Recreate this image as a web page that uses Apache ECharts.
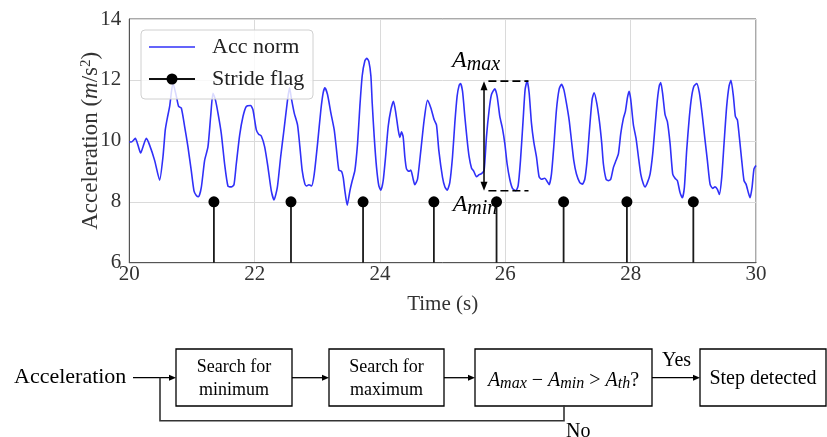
<!DOCTYPE html>
<html><head><meta charset="utf-8">
<script src="https://cdn.jsdelivr.net/npm/echarts@6/dist/echarts.min.js"></script>
<style>html,body{margin:0;padding:0;background:#fff}#c{width:827px;height:437px}</style>
</head><body><div id="c"></div>
<script>
// ---- Acc norm signal, in four pieces ----
const timeA = [20.000,20.032,20.096,20.138,20.181,20.218,20.271,20.324,20.404,20.484,20.537,20.574,20.606,20.644,20.697,20.750,20.787,20.830,20.883,20.936,20.989,21.032,21.069,21.106,21.149,21.202,21.255,21.298,21.335,21.372,21.415,21.468,21.521,21.574,21.628,21.670,21.707,21.761,21.814,21.867,21.936,21.973,22.027,22.064,22.106,22.160,22.213,22.266,22.309,22.362,22.415,22.468];
const accA  = [9.97,9.96,10.08,9.86,9.60,9.80,10.08,9.86,9.36,8.71,9.47,10.36,10.74,11.13,11.90,11.47,11.13,11.08,10.47,9.80,9.02,8.36,8.21,8.17,8.47,9.36,9.80,10.80,11.56,11.36,10.91,10.24,9.24,8.52,8.49,8.56,9.24,10.19,10.80,11.13,11.16,11.02,10.36,10.22,10.16,9.80,9.13,8.36,8.06,8.47,9.47,10.36];
const timeB = [22.526,22.557,22.589,22.632,22.685,22.722,22.759,22.802,22.829,22.866,22.908,22.951,23.004,23.057,23.094,23.121,23.163,23.217,23.270,23.307,23.344,23.387,23.413,23.440,23.477,23.520,23.557,23.599,23.642,23.679,23.716,23.759,23.791,23.823,23.855,23.876,23.908,23.945,23.982,24.014,24.051,24.089,24.131,24.174,24.216,24.253,24.291,24.317,24.344,24.370,24.397,24.423,24.461,24.492,24.530,24.556,24.599,24.652,24.705,24.758,24.812,24.865,24.902,24.939];
const accB  = [11.36,11.74,11.36,10.91,10.52,9.80,9.02,8.58,8.52,8.56,8.52,8.91,9.91,11.02,11.58,11.74,11.52,10.91,10.36,9.69,9.04,9.00,8.80,8.36,7.89,8.36,8.69,9.02,9.91,11.13,12.13,12.63,12.71,12.60,12.13,11.24,10.13,9.13,8.52,8.38,8.69,9.47,10.47,11.02,11.30,10.91,10.36,10.11,10.30,10.13,9.47,9.08,9.00,9.04,8.74,8.56,8.74,9.69,10.69,11.33,11.08,10.69,10.52,9.69];
const timeC = [24.998,25.035,25.072,25.114,25.157,25.194,25.231,25.263,25.285,25.317,25.354,25.391,25.423,25.460,25.497,25.540,25.582,25.625,25.662,25.699,25.742,25.779,25.832,25.869,25.912,25.954,25.992,26.029,26.071,26.114,26.167,26.204,26.242,26.284,26.316,26.348,26.380,26.417,26.454,26.497,26.539,26.577,26.630,26.667,26.699,26.736,26.773,26.816,26.858,26.895,26.933,26.975,27.018,27.055,27.092,27.135,27.188,27.230,27.268,27.305,27.347,27.385,27.417];
const accC  = [8.80,8.49,8.38,8.63,9.47,10.58,11.47,11.82,11.88,11.63,10.80,10.02,9.47,9.11,9.00,8.82,8.89,8.93,9.04,10.13,11.02,11.52,11.71,11.47,10.80,10.41,9.91,9.24,8.74,8.44,8.36,8.52,9.36,10.69,11.69,11.97,11.58,10.58,9.97,9.47,8.82,8.74,8.77,8.67,8.56,8.91,9.80,11.02,11.69,11.86,11.69,11.24,10.69,10.02,9.36,8.91,8.63,8.58,8.74,9.36,10.47,11.36,11.58];
const timeD = [27.459,27.502,27.539,27.565,27.608,27.645,27.682,27.725,27.767,27.805,27.842,27.884,27.916,27.948,27.975,28.001,28.044,28.086,28.124,28.161,28.203,28.230,28.267,28.310,28.352,28.389,28.427,28.458,28.480,28.512,28.549,28.586,28.629,28.671,28.708,28.746,28.788,28.825,28.857,28.894,28.937,28.974,29.011,29.054,29.096,29.139,29.181,29.224,29.267,29.309,29.346,29.384,29.415,29.453,29.490,29.532,29.570,29.601,29.639,29.671,29.703,29.734,29.772,29.809,29.841,29.878,29.905,29.937,29.968,30.000];
const accD  = [11.24,10.63,9.91,9.24,8.74,8.69,8.74,9.13,9.36,9.58,10.24,10.74,10.97,11.41,11.63,11.36,10.52,10.08,9.47,8.91,8.58,8.49,8.63,8.91,9.58,10.47,11.36,11.82,11.91,11.52,10.86,10.63,9.91,8.91,8.77,8.69,8.30,8.13,8.47,9.69,10.80,11.47,11.80,11.88,11.58,10.91,10.13,9.36,8.58,8.44,8.49,8.41,8.24,8.80,9.91,11.13,11.80,11.99,11.47,10.80,10.69,10.13,9.36,8.69,8.58,8.30,8.13,8.47,9.08,9.19];

// ---- Stride flags ----
const strideTime  = [21.35,22.58,23.73,24.86,25.86,26.93,27.94,29.00];
const strideValue = [8,8,8,8,8,8,8,8];

// ---- Axis ticks ----
const xTicks = [20,22,24,26,28,30];
const yTicks = [6,8,10,12,14];

// ---- Amplitude annotation (data units) ----
const ampArrowTime = [25.66];
const ampLevels = [8.36, 11.96];          // [A_min, A_max]
const ampDashSpan = [25.73, 26.37];
const ampLabelTime = [25.15, 25.16];
const ampLabelValue = [12.62, 7.90];
const ampLabelSub = ['max','min'];

// ---- Legend / flowchart texts ----
const legendNames = ['Acc norm','Stride flag'];
const flowInput = 'Acceleration';
const flowBoxes = ['Search for\nminimum','Search for\nmaximum','','Step detected'];
const flowYes = 'Yes', flowNo = 'No';

const time = timeA.concat(timeB, timeC, timeD);
const acc = accA.concat(accB, accC, accD);

const SERIF = 'Liberation Serif';
const BLUE = '#3030f8';
const chart = echarts.init(document.getElementById('c'), null, {renderer:'canvas', width:827, height:437});

const mathRich = (main, sub) => ({
  a:{fontFamily:SERIF, fontStyle:'italic', fontSize:main, color:'#000'},
  s:{fontFamily:SERIF, fontStyle:'italic', fontSize:sub, color:'#000', padding:[Math.round(sub*0.4),0,0,0]},
  n:{fontFamily:SERIF, fontSize:main, color:'#000'}
});

// flowchart geometry (pixels, drawing only)
const boxY = 349, boxH = 57, midY = 377.7;
const boxes = [[176,292],[329,444],[475,652],[700,826]];
const arrowSegs = [[133,176],[292,329],[444,475],[652,700]];

const graphics = [];
// legend
graphics.push({type:'rect', z:100, shape:{x:141,y:30,width:172,height:69,r:4}, style:{fill:'rgba(255,255,255,0.82)', stroke:'#d0d0d0', lineWidth:1}});
graphics.push({type:'line', z:101, shape:{x1:149,y1:47,x2:195,y2:47}, style:{stroke:BLUE, lineWidth:1.5}});
graphics.push({type:'text', z:101, x:212, y:47, style:{text:legendNames[0], fontFamily:SERIF, fontSize:22, fill:'#222', verticalAlign:'middle'}});
graphics.push({type:'line', z:101, shape:{x1:149,y1:79,x2:195,y2:79}, style:{stroke:'#111', lineWidth:1.8}});
graphics.push({type:'circle', z:102, shape:{cx:172,cy:79,r:5.5}, style:{fill:'#000'}});
graphics.push({type:'text', z:101, x:212, y:79, style:{text:legendNames[1], fontFamily:SERIF, fontSize:22, fill:'#222', verticalAlign:'middle'}});
// flowchart
graphics.push({type:'text', x:14, y:midY, style:{text:flowInput, fontFamily:SERIF, fontSize:22, fill:'#000', verticalAlign:'middle'}});
boxes.forEach(([x1,x2],i)=>{
  graphics.push({type:'rect', shape:{x:x1,y:boxY,width:x2-x1,height:boxH}, style:{fill:'#fff', stroke:'#000', lineWidth:1.3}});
  if (i===2) {
    graphics.push({type:'text', x:(x1+x2)/2, y:midY+3, style:{
      text:'{a|A}{s|max}{n| − }{a|A}{s|min}{n| > }{a|A}{s|th}{n|?}', rich:mathRich(20,16), align:'center', verticalAlign:'middle'}});
  } else {
    graphics.push({type:'text', x:(x1+x2)/2, y:midY+1, style:{text:flowBoxes[i], fontFamily:SERIF, fontSize:i===3?20:18, lineHeight:i===3?20:23, fill:'#000', align:'center', verticalAlign:'middle'}});
  }
});
arrowSegs.forEach(([x1,x2])=>{
  graphics.push({type:'line', shape:{x1:x1,y1:midY,x2:x2-5,y2:midY}, style:{stroke:'#000', lineWidth:1.3}});
  graphics.push({type:'polygon', shape:{points:[[x2,midY],[x2-7,midY-3],[x2-7,midY+3]]}, style:{fill:'#000'}});
});
graphics.push({type:'polyline', shape:{points:[[564,405],[564,420.7],[160,420.7],[160,midY]]}, style:{stroke:'#333', lineWidth:1.6, fill:null}});
graphics.push({type:'text', x:662, y:361, style:{text:flowYes, fontFamily:SERIF, fontSize:20, fill:'#000', verticalAlign:'middle'}});
graphics.push({type:'text', x:566, y:432, style:{text:flowNo, fontFamily:SERIF, fontSize:20, fill:'#000', verticalAlign:'middle'}});

const option = {
  animation:false,
  backgroundColor:'#fff',
  grid:{left:129.3, right:71, top:19, bottom:174.3, show:true, borderColor:'#555', borderWidth:1},
  xAxis:{
    type:'value', min:xTicks[0], max:xTicks[xTicks.length-1], interval:xTicks[1]-xTicks[0],
    name:'Time (s)', nameLocation:'middle', nameGap:31,
    nameTextStyle:{fontFamily:SERIF, fontSize:21, color:'#333'},
    axisLine:{show:true, lineStyle:{color:'#555', width:1}}, axisTick:{show:false},
    axisLabel:{fontFamily:SERIF, fontSize:21, color:'#333', margin:1},
    splitLine:{show:true, lineStyle:{color:'#dadada', width:1}}
  },
  yAxis:{
    type:'value', min:yTicks[0], max:yTicks[yTicks.length-1], interval:yTicks[1]-yTicks[0],
    name:'{n|Acceleration (}{i|m}{n|/s}{p|2}{n|)}', nameLocation:'middle', nameGap:25, nameMoveOverlap:false,
    nameTextStyle:{fontFamily:SERIF, fontSize:23, color:'#333', rich:{
      n:{fontFamily:SERIF, fontSize:23, color:'#333'},
      i:{fontFamily:SERIF, fontStyle:'italic', fontSize:23, color:'#333'},
      p:{fontFamily:SERIF, fontSize:15, color:'#333', padding:[0,0,11,0]}}},
    axisLine:{show:true, lineStyle:{color:'#555', width:1}}, axisTick:{show:false},
    axisLabel:{fontFamily:SERIF, fontSize:21, color:'#333', margin:8},
    splitLine:{show:true, lineStyle:{color:'#dadada', width:1}}
  },
  series:[
    {type:'line', name:legendNames[0], data:time.map((t,i)=>[t,acc[i]]), showSymbol:false, symbol:'none',
     smooth:0.2, lineStyle:{color:BLUE, width:1.6}, z:3},
    {type:'custom', name:legendNames[1], data:strideTime.map((t,i)=>[t,strideValue[i]]), z:5,
     renderItem:(params, api)=>{
       const p = api.coord([api.value(0), api.value(1)]);
       const b = api.coord([api.value(0), yTicks[0]]);
       return {type:'group', children:[
         {type:'line', shape:{x1:p[0],y1:p[1],x2:b[0],y2:b[1]}, style:{stroke:'#1a1a1a', lineWidth:1.8}},
         {type:'circle', shape:{cx:p[0],cy:p[1],r:5.5}, style:{fill:'#000'}}
       ]};
     }},
    {type:'custom', name:'amplitude', data:ampArrowTime.map(t=>[t, ampLevels[0], ampLevels[1], ampDashSpan[0], ampDashSpan[1]]), z:6, clip:false,
     renderItem:(params, api)=>{
       const lo = api.coord([api.value(0), api.value(1)]);
       const hi = api.coord([api.value(0), api.value(2)]);
       const d1 = api.coord([api.value(3), api.value(2)]);
       const d2 = api.coord([api.value(4), api.value(2)]);
       const e1 = api.coord([api.value(3), api.value(1)]);
       const e2 = api.coord([api.value(4), api.value(1)]);
       const x = hi[0];
       return {type:'group', children:[
         {type:'line', shape:{x1:x,y1:hi[1]+7,x2:x,y2:lo[1]-7}, style:{stroke:'#000', lineWidth:1.5}},
         {type:'polygon', shape:{points:[[x,hi[1]],[x-3.5,hi[1]+9],[x+3.5,hi[1]+9]]}, style:{fill:'#000'}},
         {type:'polygon', shape:{points:[[x,lo[1]],[x-3.5,lo[1]-9],[x+3.5,lo[1]-9]]}, style:{fill:'#000'}},
         {type:'line', shape:{x1:d1[0],y1:d1[1],x2:d2[0],y2:d2[1]}, style:{stroke:'#000', lineWidth:1.6, lineDash:[8,4]}},
         {type:'line', shape:{x1:e1[0],y1:e1[1],x2:e2[0],y2:e2[1]}, style:{stroke:'#000', lineWidth:1.6, lineDash:[8,4]}}
       ]};
     }},
    {type:'custom', name:'amplitude labels', data:ampLabelTime.map((t,i)=>[t, ampLabelValue[i], i]), z:7, clip:false,
     renderItem:(params, api)=>{
       const p = api.coord([api.value(0), api.value(1)]);
       return {type:'text', x:p[0], y:p[1], style:{text:'{a|A}{s|'+ampLabelSub[api.value(2)]+'}', rich:mathRich(24,20), align:'left', verticalAlign:'middle'}};
     }}
  ],
  graphic:graphics
};
chart.setOption(option);
</script>
</body></html>
